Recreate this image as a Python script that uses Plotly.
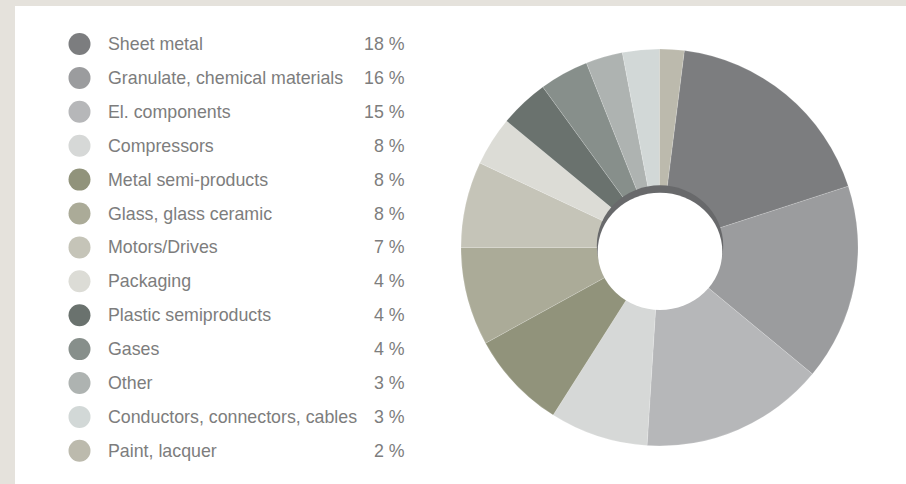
import plotly.graph_objects as go

# Purchasing volume by material group (percent)
categories = [
    "Sheet metal",
    "Granulate, chemical materials",
    "El. components",
    "Compressors",
    "Metal semi-products",
    "Glass, glass ceramic",
    "Motors/Drives",
    "Packaging",
    "Plastic semiproducts",
    "Gases",
    "Other",
    "Conductors, connectors, cables",
    "Paint, lacquer",
]
shares = [18, 16, 15, 8, 8, 8, 7, 4, 4, 4, 3, 3, 2]
colors = [
    "#7c7d7f", "#9b9c9e", "#b6b7b9", "#d6d8d7", "#91937b", "#abab98", "#c5c4b8",
    "#dcdcd6", "#6a726e", "#878f8b", "#aeb3b1", "#d2d8d7", "#bcbaad",
]

W, H = 906, 484
TEXT = "#7d7d7d"
FONT = "Liberation Sans, Arial, Helvetica, sans-serif"

# donut geometry in pixels
cx, cy, R = 659.5, 247.5, 198.5

fig = go.Figure()

# first slice starts just past 12 o'clock so the last one closes the circle at the top
fig.add_trace(go.Pie(
    labels=categories,
    values=shares,
    sort=False,
    direction="clockwise",
    rotation=360 * shares[-1] / sum(shares),
    hole=0.28,
    marker=dict(colors=colors, line=dict(color="rgba(255,255,255,0.3)", width=0.5)),
    textinfo="none",
    hoverinfo="label+percent",
    showlegend=False,
    domain=dict(x=[(cx - R) / W, (cx + R) / W], y=[1 - (cy + R) / H, 1 - (cy - R) / H]),
))

# legend drawn as a scatter on a pixel-scaled hidden axis
row0, row_step = 44, 33.9
rows = [row0 + i * row_step for i in range(len(categories))]
fig.add_trace(go.Scatter(
    x=[79.5] * len(categories),
    y=rows,
    mode="markers",
    marker=dict(size=22, color=colors, line=dict(width=0)),
    hoverinfo="skip",
    showlegend=False,
))

annotations = []
for name, val, yy in zip(categories, shares, rows):
    annotations.append(dict(
        x=106, y=yy, xref="x", yref="y", text=name, showarrow=False,
        xanchor="left", yanchor="middle", font=dict(family=FONT, size=17.8, color=TEXT),
    ))
    annotations.append(dict(
        x=406.5, y=yy, xref="x", yref="y", text=f"{val} %", showarrow=False,
        xanchor="right", yanchor="middle", font=dict(family=FONT, size=17.8, color=TEXT),
    ))

shapes = [
    # white panel inside the beige frame
    dict(type="rect", xref="paper", yref="paper", x0=15 / W, x1=1, y0=0, y1=1 - 6 / H,
         fillcolor="white", line=dict(width=0), layer="below"),
    # inner shadow of the donut hole
    dict(type="circle", xref="paper", yref="paper",
         x0=596.8 / W, x1=723.2 / W, y0=1 - 306 / H, y1=1 - 185.3 / H,
         fillcolor="#68696b", line=dict(width=0), layer="above"),
    dict(type="circle", xref="paper", yref="paper",
         x0=597.7 / W, x1=722.3 / W, y0=1 - 310 / H, y1=1 - 192.7 / H,
         fillcolor="white", line=dict(width=0), layer="above"),
]

fig.update_layout(
    width=W, height=H,
    margin=dict(l=0, r=0, t=0, b=0),
    paper_bgcolor="#e5e2dc",
    plot_bgcolor="rgba(0,0,0,0)",
    xaxis=dict(range=[0, W], domain=[0, 1], visible=False, fixedrange=True),
    yaxis=dict(range=[H, 0], domain=[0, 1], visible=False, fixedrange=True),
    annotations=annotations,
    shapes=shapes,
    font=dict(family=FONT, color=TEXT),
)

fig.write_html("out.html")
